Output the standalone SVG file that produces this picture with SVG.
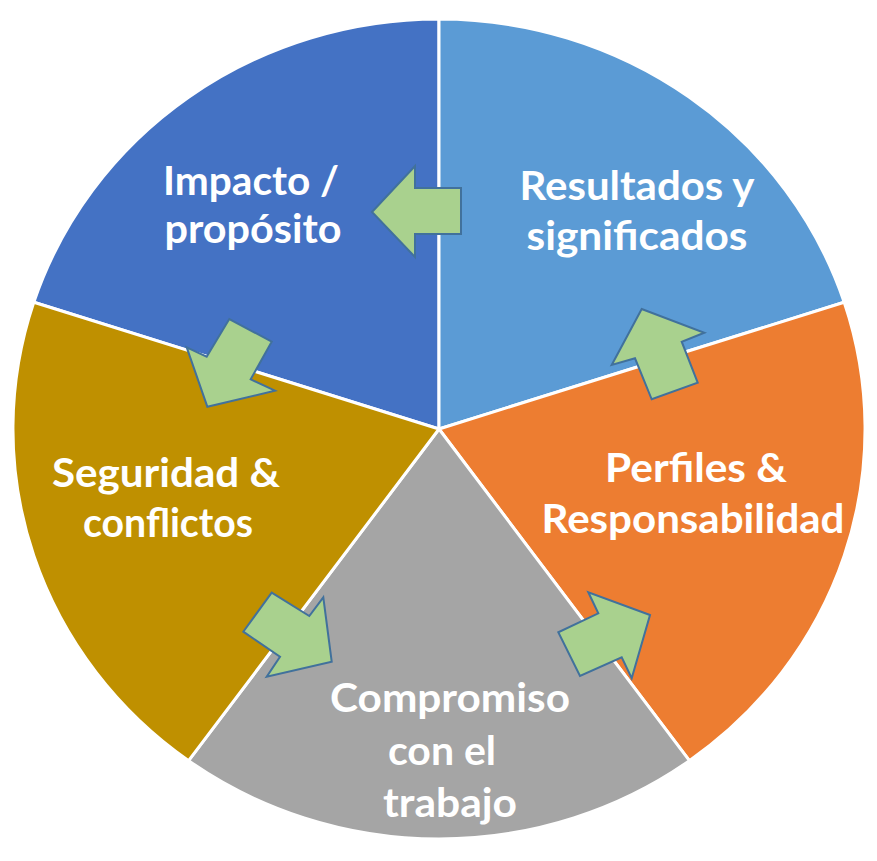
<svg xmlns="http://www.w3.org/2000/svg" width="877" height="861" viewBox="0 0 877 861">
<style>
.seg{stroke:#FFFFFF;stroke-width:3;stroke-linejoin:round}
.lbl{font-family:Lato,"Open Sans","Liberation Sans",sans-serif;font-weight:700;font-size:41px;fill:#FFFFFF;text-anchor:middle}
.arr{fill:#A9D18E;stroke:#41719C;stroke-width:2;stroke-linejoin:miter}
</style>
<rect width="877" height="861" fill="#FFFFFF"/>
<g id="node-impacto">
<path class="seg" fill="#4472C4" d="M439,429 L439,19 A426,410 0 0 0 33.8,302.3 Z"/>
<text class="lbl" x="251" y="195" textLength="176" lengthAdjust="spacingAndGlyphs">Impacto /</text>
<text class="lbl" x="253" y="243" textLength="177" lengthAdjust="spacingAndGlyphs">propósito</text>
</g>
<g id="node-resultados">
<path class="seg" fill="#5B9BD5" d="M439,429 L844.2,302.3 A426,410 0 0 0 439,19 Z"/>
<text class="lbl" x="637" y="200" textLength="235" lengthAdjust="spacingAndGlyphs">Resultados y</text>
<text class="lbl" x="637" y="250" textLength="221" lengthAdjust="spacingAndGlyphs">significados</text>
</g>
<g id="node-perfiles">
<path class="seg" fill="#ED7D31" d="M439,429 L689.4,760.7 A426,410 0 0 0 844.2,302.3 Z"/>
<text class="lbl" x="696" y="482" textLength="182" lengthAdjust="spacingAndGlyphs">Perfiles &amp;</text>
<text class="lbl" x="693" y="533" textLength="303" lengthAdjust="spacingAndGlyphs">Responsabilidad</text>
</g>
<g id="node-compromiso">
<path class="seg" fill="#A5A5A5" d="M439,429 L188.6,760.7 A426,410 0 0 0 689.4,760.7 Z"/>
<text class="lbl" x="450" y="712" textLength="240" lengthAdjust="spacingAndGlyphs">Compromiso</text>
<text class="lbl" x="442" y="765">con el</text>
<text class="lbl" x="450" y="817" textLength="134" lengthAdjust="spacingAndGlyphs">trabajo</text>
</g>
<g id="node-seguridad">
<path class="seg" fill="#BF9000" d="M439,429 L33.8,302.3 A426,410 0 0 0 188.6,760.7 Z"/>
<text class="lbl" x="166" y="487" textLength="228" lengthAdjust="spacingAndGlyphs">Seguridad &amp;</text>
<text class="lbl" x="168" y="537" textLength="170" lengthAdjust="spacingAndGlyphs">conflictos</text>
</g>
<g id="connectors">
<polygon class="arr" points="372,212 415,166 415,188 461,188 461,234 415,234 415,257"/>
<polygon class="arr" points="641.7,309 704.3,332.7 681.7,341.7 697.7,382.7 651.7,399.3 635,358.3 611.7,365"/>
<polygon class="arr" points="207.3,406.7 186.7,347.3 206.7,356.7 229.3,319 271.7,341.7 250.7,379.3 275,390.7"/>
<polygon class="arr" points="331.7,661.7 323.3,597.3 309.3,616 271.7,592.7 243.3,631.7 280,656.7 266.7,676.7"/>
<polygon class="arr" points="650,615 588.3,592.3 598.3,613.3 558.3,632.3 580,676 621.7,657.3 631.7,678.3"/>
</g>
</svg>
